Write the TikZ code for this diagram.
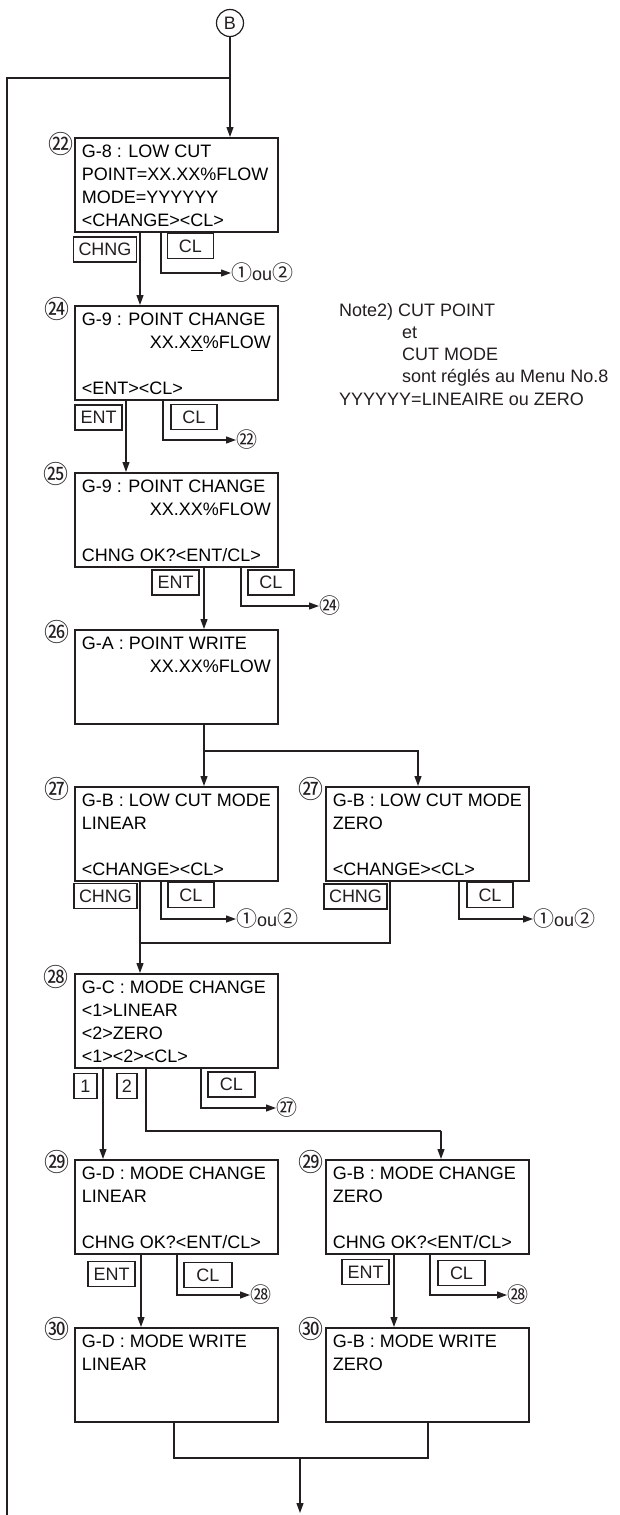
\documentclass[tikz,border=0pt]{standalone}
\usepackage{fontspec}
\setmainfont{Liberation Sans}
\newfontfamily\cjk{Noto Sans CJK JP}
\usetikzlibrary{arrows.meta}
\definecolor{ink}{HTML}{231F20}
\newcommand{\scrtext}[1]{\parbox[t][86pt][t]{189pt}{\fontsize{18}{23}\selectfont\raggedright #1}}
\newcommand{\cn}[1]{{\cjk\fontsize{21}{21}\selectfont #1}}
\tikzset{
  screen/.style={draw=ink, line width=1.6pt, rectangle, inner xsep=7pt, inner ysep=4pt,
    minimum width=203pt, minimum height=94pt, anchor=north west},
  key/.style={draw=ink, line width=1.2pt, rectangle, inner sep=0pt, minimum height=25pt,
    text=ink, font=\fontsize{18}{20}\selectfont},
  lbl/.style={inner sep=0pt, text=ink, font=\cjk\fontsize{25}{25}\selectfont},
  tgt/.style={inner sep=0pt, anchor=west, text=ink, font=\fontsize{18}{20}\selectfont},
  conn/.style={draw=ink, line width=1.2pt},
  arr/.style={conn, -{Triangle[length=10pt,width=7pt]}},
  note/.style={inner sep=0pt, anchor=base west, text=ink, font=\fontsize{18}{20}\selectfont}
}
\begin{document}
\begin{tikzpicture}[x=1pt, y=-1pt]
\fill[white] (0,0) rectangle (620,1515);
\useasboundingbox (0,0) rectangle (620,1515);

% start circle
\node[draw=ink, line width=1.2pt, circle, minimum size=27pt, inner sep=0pt, text=ink,
  font=\fontsize{18}{18}\selectfont] (B) at (230,23) {B};

% screens
\node[screen] (b22) at (74,137) {\scrtext{\strut G-8 : LOW CUT\\ POINT=XX.XX\%FLOW\\ MODE=YYYYYY\\ <CHANGE><CL>}};
\node[screen] (b24) at (74,305) {\scrtext{\strut G-9 : POINT CHANGE\\ \mbox{}\hfill XX.X\underline{X}\%FLOW\\ \strut\\ <ENT><CL>}};
\node[screen] (b25) at (74,472) {\scrtext{\strut G-9 : POINT CHANGE\\ \mbox{}\hfill XX.XX\%FLOW\\ \strut\\ CHNG OK?<ENT/CL>}};
\node[screen] (b26) at (74,629) {\scrtext{\strut G-A : POINT WRITE\\ \mbox{}\hfill XX.XX\%FLOW}};
\node[screen] (b27l) at (74,786) {\scrtext{\strut G-B : LOW CUT MODE\\ LINEAR\\ \strut\\ <CHANGE><CL>}};
\node[screen] (b27r) at (325,786) {\scrtext{\strut G-B : LOW CUT MODE\\ ZERO\\ \strut\\ <CHANGE><CL>}};
\node[screen] (b28) at (74,973) {\scrtext{\strut G-C : MODE CHANGE\\ <1>LINEAR\\ <2>ZERO\\ <1><2><CL>}};
\node[screen] (b29l) at (74,1159) {\scrtext{\strut G-D : MODE CHANGE\\ LINEAR\\ \strut\\ CHNG OK?<ENT/CL>}};
\node[screen] (b29r) at (325,1159) {\scrtext{\strut G-B : MODE CHANGE\\ ZERO\\ \strut\\ CHNG OK?<ENT/CL>}};
\node[screen] (b30l) at (74,1327) {\scrtext{\strut G-D : MODE WRITE\\ LINEAR}};
\node[screen] (b30r) at (325,1327) {\scrtext{\strut G-B : MODE WRITE\\ ZERO}};

% step labels
\node[lbl] (l22) at (61,144) {㉒};
\node[lbl] (l24) at (57,309) {㉔};
\node[lbl] (l25) at (56,474) {㉕};
\node[lbl] (l26) at (57,632) {㉖};
\node[lbl] (l27l) at (57,789) {㉗};
\node[lbl] (l27r) at (311,789) {㉗};
\node[lbl] (l28) at (56,977) {㉘};
\node[lbl] (l29l) at (57,1162) {㉙};
\node[lbl] (l29r) at (311,1162) {㉙};
\node[lbl] (l30l) at (57,1329) {㉚};
\node[lbl] (l30r) at (311,1329) {㉚};

% keys
\node[key, minimum width=63pt] (k22a) at (105,249.5) {CHNG};
\node[key, minimum width=46pt] (k22b) at (190.5,246) {CL};
\node[key, minimum width=47pt] (k24a) at (98.5,417.5) {ENT};
\node[key, minimum width=46pt] (k24b) at (194,417) {CL};
\node[key, minimum width=47pt] (k25a) at (175.5,582.5) {ENT};
\node[key, minimum width=46pt] (k25b) at (271,582.5) {CL};
\node[key, minimum width=63pt] (k27la) at (105.5,896) {CHNG};
\node[key, minimum width=46pt] (k27lb) at (191,895) {CL};
\node[key, minimum width=63pt] (k27ra) at (355.5,896.5) {CHNG};
\node[key, minimum width=46pt] (k27rb) at (490,895) {CL};
\node[key, minimum width=23pt] (k28a) at (85.5,1086) {1};
\node[key, minimum width=20pt] (k28b) at (127,1086) {2};
\node[key, minimum width=47pt] (k28c) at (231.5,1084.5) {CL};
\node[key, minimum width=47pt] (k29la) at (111.5,1274) {ENT};
\node[key, minimum width=48pt] (k29lb) at (208,1275) {CL};
\node[key, minimum width=47pt] (k29ra) at (365.5,1272) {ENT};
\node[key, minimum width=47pt] (k29rb) at (461.5,1273) {CL};

% jump targets
\node[tgt] (t22) at (231,273) {\cn{①}ou\cn{②}};
\node[tgt] (t24) at (236,440) {\cn{㉒}};
\node[tgt] (t25) at (319,606) {\cn{㉔}};
\node[tgt] (t27l) at (236,919) {\cn{①}ou\cn{②}};
\node[tgt] (t27r) at (533,919) {\cn{①}ou\cn{②}};
\node[tgt] (t28) at (276,1108) {\cn{㉗}};
\node[tgt] (t29l) at (250,1295) {\cn{㉘}};
\node[tgt] (t29r) at (507,1295) {\cn{㉘}};

% note
\node[note] (n1) at (339,316) {Note2) CUT POINT};
\node[note] (n2) at (402,338) {et};
\node[note] (n3) at (402,360) {CUT MODE};
\node[note] (n4) at (402,382) {sont réglés au Menu No.8};
\node[note] (n5) at (339,405) {YYYYYY=LINEAIRE ou ZERO};

% junction coordinates
\coordinate (jtop) at (230,78);
\coordinate (jl1) at (7,78);
\coordinate (jl2) at (7,1515);
\coordinate (j26) at (204,751);
\coordinate (j27) at (140,943);
\coordinate (j28) at (441,1131);
\coordinate (jbot) at (300,1458);
\coordinate (jend) at (300,1513);

% connectors
\draw[arr] (B.south) -- (B.south |- b22.north);
\draw[conn] (jtop) -- (jl1) -- (jl2);

\draw[arr] (140,0 |- b22.south) -- (140,0 |- b24.north);
\draw[arr] (161,0 |- b22.south) |- (t22.west);

\draw[arr] (126,0 |- b24.south) -- (126,0 |- b25.north);
\draw[arr] (163,0 |- b24.south) |- (t24.west);

\draw[arr] (204,0 |- b25.south) -- (204,0 |- b26.north);
\draw[arr] (241,0 |- b25.south) |- (t25.west);

\draw[arr] (204,0 |- b26.south) -- (204,0 |- b27l.north);
\draw[arr] (j26) -| (418,0 |- b27r.north);

\draw[arr] (140,0 |- b27l.south) -- (140,0 |- b28.north);
\draw[arr] (161,0 |- b27l.south) |- (t27l.west);
\draw[conn] (390,0 |- b27r.south) |- (j27);
\draw[arr] (459,0 |- b27r.south) |- (t27r.west);

\draw[arr] (103,0 |- b28.south) -- (103,0 |- b29l.north);
\draw[conn] (146,0 |- b28.south) |- (j28);
\draw[arr] (j28) -- (j28 |- b29r.north);
\draw[arr] (201,0 |- b28.south) |- (t28.west);

\draw[arr] (141,0 |- b29l.south) -- (141,0 |- b30l.north);
\draw[arr] (177,0 |- b29l.south) |- (t29l.west);
\draw[arr] (394,0 |- b29r.south) -- (394,0 |- b30r.north);
\draw[arr] (430,0 |- b29r.south) |- (t29r.west);

\draw[conn] (174,0 |- b30l.south) |- (jbot) -| (428,0 |- b30r.south);
\draw[arr] (jbot) -- (jend);
\end{tikzpicture}
\end{document}
